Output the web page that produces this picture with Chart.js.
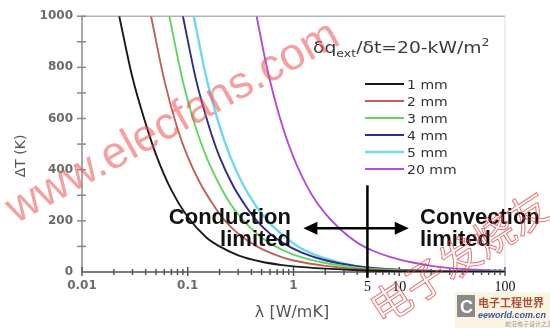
<!DOCTYPE html>
<html><head><meta charset="utf-8">
<script src="https://cdn.jsdelivr.net/npm/chart.js@4.4.0/dist/chart.umd.min.js"></script>
<style>html,body{margin:0;padding:0;background:#fff;}#wrap{width:550px;height:328px;}</style>
</head><body><div id="wrap"><canvas id="c" width="550" height="328"></canvas></div>
<script>
// ---- data ----
const seriesLabels = ['1 mm','2 mm','3 mm','4 mm','5 mm','20 mm'];
const seriesColors = ['#1a1a1a','#c0605a','#62d462','#2d2d8a','#6fd8f0','#b24cd6'];

const lambda1  = [0.0225,0.03,0.04,0.05,0.07,0.1,0.15,0.2,0.3,0.5,0.75,1,2,4,10,30,100];
const dT1      = [1000,760,580,460,320,215,135,100,65,40,28,22,13,7,3,1.5,0.5];
const lambda2  = [0.045,0.06,0.08,0.1,0.13,0.17,0.22,0.3,0.45,0.75,1,2,4,10,30,100];
const dT2      = [1000,750,560,450,350,270,205,150,100,60,45,24,12,5,2,1];
const lambda3  = [0.067,0.09,0.12,0.15,0.2,0.25,0.33,0.45,0.6,1,2,4,10,30,100];
const dT3      = [1000,745,560,450,340,270,205,150,112,68,35,17,7,2,1];
const lambda4  = [0.09,0.12,0.16,0.2,0.27,0.35,0.45,0.6,0.8,1.2,2,4,10,30,100];
const dT4      = [1000,750,565,450,335,260,200,150,113,76,46,23,9,3,1];
const lambda5  = [0.114,0.15,0.2,0.25,0.33,0.45,0.6,0.8,1.1,1.5,2.2,4,10,30,100];
const dT5      = [1000,760,570,455,345,253,190,143,100,72,48,22,7,2,1];
const lambda20 = [0.448,0.55,0.65,0.8,1,1.2,1.5,2,2.8,4,5.5,8,13,20,30,60,100];
const dT20     = [1000,815,690,560,448,375,300,228,165,115,85,60,38,24,15,8,5];

const seriesLambda = [lambda1,lambda2,lambda3,lambda4,lambda5,lambda20];
const seriesDT     = [dT1,dT2,dT3,dT4,dT5,dT20];

const xTickValues = [0.01,0.1,1,5,10,100];
const xTickLabels = ['0.01','0.1','1','5','10','100'];
const yTickValues = [0,200,400,600,800,1000];
const yTickLabels = ['0','200','400','600','800','1000'];

// annotation (data units)
const dividerLambda = 5;
const dividerRange  = [339,-23];
const arrowLambda   = [1.24,12.3];
const arrowDT       = 171;

// ---- chart ----
const datasets = seriesLabels.map((lab,i)=>({
  label: lab,
  data: seriesLambda[i].map((l,j)=>({x:l, y:seriesDT[i][j]})),
  borderColor: seriesColors[i],
  borderWidth: i===4 ? 2.4 : 1.9,
  pointRadius: 0,
  fill: false,
  cubicInterpolationMode: 'monotone'
}));

function txt(ctx, s, x, y, font, color, sx, align){
  ctx.save();
  ctx.font = font; ctx.fillStyle = color; ctx.textAlign = align||'left'; ctx.textBaseline='alphabetic';
  ctx.translate(x,y); ctx.scale(sx||1,1);
  ctx.fillText(s,0,0);
  ctx.restore();
}

const decor = {
  id: 'decor',
  beforeDatasetsDraw(chart){
    const {ctx, chartArea:a, scales:{x,y}} = chart;
    const ln=(x1,y1,x2,y2)=>{ctx.beginPath();ctx.moveTo(x1,y1);ctx.lineTo(x2,y2);ctx.stroke();};
    ctx.save();
    ctx.strokeStyle='#b4b4b4'; ctx.lineWidth=1.5; ln(a.left,a.top,a.right,a.top);
    ctx.strokeStyle='#dcdcdc'; ctx.lineWidth=1; ln(a.right,a.top,a.right,a.bottom);
    ctx.strokeStyle='#8a8a8a'; ctx.lineWidth=1.5; ln(a.left,a.top,a.left,a.bottom);
    for(let v=100; v<=1000; v+=100){ const py=y.getPixelForValue(v); ln(a.left-5,py,a.left+4,py); }
    ctx.strokeStyle='#555'; ctx.lineWidth=1.5; ln(a.left,a.bottom,a.right,a.bottom);
    for(let d=0.01; d<50; d*=10){
      for(let k=1;k<=9;k++){
        const px=x.getPixelForValue(k*d);
        if(k===1) ln(px,a.bottom-5,px,a.bottom+4); else ln(px,a.bottom-3,px,a.bottom+3);
      }
    }
    const pr=x.getPixelForValue(100); ln(pr,a.bottom-5,pr,a.bottom+4);
    ctx.restore();
  },
  afterDatasetsDraw(chart){
    const {ctx, chartArea:a, scales:{x,y}} = chart;
    ctx.save();
    // cross + arrow
    ctx.strokeStyle='#000'; ctx.fillStyle='#000'; ctx.lineWidth=2.5;
    const vx=x.getPixelForValue(dividerLambda);
    ctx.beginPath(); ctx.moveTo(vx,y.getPixelForValue(dividerRange[0])); ctx.lineTo(vx,y.getPixelForValue(dividerRange[1])); ctx.stroke();
    const ax1=x.getPixelForValue(arrowLambda[0]), ax2=x.getPixelForValue(arrowLambda[1]), ay=y.getPixelForValue(arrowDT);
    ctx.beginPath(); ctx.moveTo(ax1+8,ay); ctx.lineTo(ax2-8,ay); ctx.stroke();
    ctx.beginPath(); ctx.moveTo(ax1,ay); ctx.lineTo(ax1+14,ay-6.5); ctx.lineTo(ax1+14,ay+6.5); ctx.closePath(); ctx.fill();
    ctx.beginPath(); ctx.moveTo(ax2,ay); ctx.lineTo(ax2-14,ay-6.5); ctx.lineTo(ax2-14,ay+6.5); ctx.closePath(); ctx.fill();
    // region labels
    const bf='bold 22px "Liberation Sans", Arial, sans-serif';
    txt(ctx,'Conduction',291,224,bf,'#111',1,'right');
    txt(ctx,'limited',291,246,bf,'#111',1,'right');
    txt(ctx,'Convection',420,224,bf,'#111',1,'left');
    txt(ctx,'limited',420,246,bf,'#111',1,'left');
    // legend title
    const sx=1.25; let cx=313; const by=53;
    const mf='15px "DejaVu Sans", sans-serif', sf='10px "DejaVu Sans", sans-serif';
    const parts=[['δq',mf,0],['ext',sf,4],['/δt=20-kW/m',mf,0],['2',sf,-7]];
    parts.forEach(p=>{ ctx.font=p[1]; txt(ctx,p[0],cx,by+p[2],p[1],'#3a3a3a',sx,'left'); cx+=ctx.measureText(p[0]).width*sx; });
    // legend
    const ly0=84, lstep=17;
    seriesLabels.forEach((lab,i)=>{
      const yy=ly0+i*lstep;
      ctx.strokeStyle=seriesColors[i]; ctx.lineWidth= i===4?2.4:1.9;
      ctx.beginPath(); ctx.moveTo(365,yy); ctx.lineTo(404,yy); ctx.stroke();
      txt(ctx,lab,407,yy+5,'13px "DejaVu Sans", sans-serif','#333',1.08,'left');
    });
    // axis titles
    txt(ctx,'λ [W/mK]',292,317,'16px "DejaVu Sans", sans-serif','#555',1,'center');
    ctx.save(); ctx.translate(25,156); ctx.rotate(-Math.PI/2);
    txt(ctx,'ΔT (K)',0,0,'14px "DejaVu Sans", sans-serif','#555',1,'center');
    ctx.restore();
    // watermarks
    ctx.save(); ctx.translate(16,224); ctx.rotate(-29*Math.PI/180);
    txt(ctx,'www.elecfans.com',0,0,'45px "Liberation Sans", Arial, sans-serif','rgba(238,80,80,0.55)',1,'left');
    ctx.restore();
    ctx.save(); ctx.translate(382,326); ctx.rotate(-33*Math.PI/180);
    ctx.font='41px "Noto Sans CJK SC", sans-serif'; ctx.strokeStyle='rgba(225,70,70,0.75)'; ctx.lineWidth=1;
    ctx.strokeText('电子发烧友',0,0);
    ctx.restore();
    // eeworld logo
    ctx.fillStyle='rgba(250,240,215,0.7)'; ctx.fillRect(455,292,95,36);
    ctx.fillStyle='#8a8a8a'; ctx.fillRect(457,295,18,22);
    txt(ctx,'C',460,313,'bold 18px "Liberation Sans", sans-serif','#fff',1,'left');
    txt(ctx,'电子工程世界',478,307,'bold 11px "Noto Sans CJK SC", sans-serif','#b0503a',1,'left');
    txt(ctx,'eeworld.com.cn',478,318,'italic bold 9px "Liberation Sans", sans-serif','#3a5a9a',1,'left');
    txt(ctx,'前沿电子设计之源',505,326,'6px "Noto Sans CJK SC", sans-serif','#999',1,'left');
    ctx.restore();
  }
};

new Chart(document.getElementById('c'), {
  type: 'line',
  data: { datasets },
  options: {
    responsive: false, animation: false, devicePixelRatio: 1,
    layout: { padding: { top: 15, right: 45, left: 0, bottom: 0 } },
    plugins: { legend: { display: false }, tooltip: { enabled: false } },
    scales: {
      x: {
        type: 'logarithmic', min: 0.01, max: 100,
        afterBuildTicks: s => { s.ticks = xTickValues.map(v=>({value:v})); },
        afterFit: s => { s.height = 56; },
        grid: { display: false, drawTicks: false }, border: { display: false },
        ticks: {
          autoSkip: false, maxRotation: 0, padding: 7,
          callback: (v,i) => xTickLabels[i],
          font: c => c.index >= 3 ? { family: '"Liberation Serif", serif', size: 14 } : { family: '"DejaVu Sans", sans-serif', size: 12, weight: 'bold' },
          color: c => c.index >= 3 ? '#111' : '#6a6a6a'
        }
      },
      y: {
        min: 0, max: 1000,
        afterBuildTicks: s => { s.ticks = yTickValues.map(v=>({value:v})); },
        afterFit: s => { s.width = 82; },
        grid: { display: false, drawTicks: false }, border: { display: false },
        ticks: { padding: 9, color: '#6a6a6a', callback: (v,i) => yTickLabels[i],
                 font: { family: '"DejaVu Sans", sans-serif', size: 12, weight: 'bold' } }
      }
    }
  },
  plugins: [decor]
});
</script>
</body></html>
